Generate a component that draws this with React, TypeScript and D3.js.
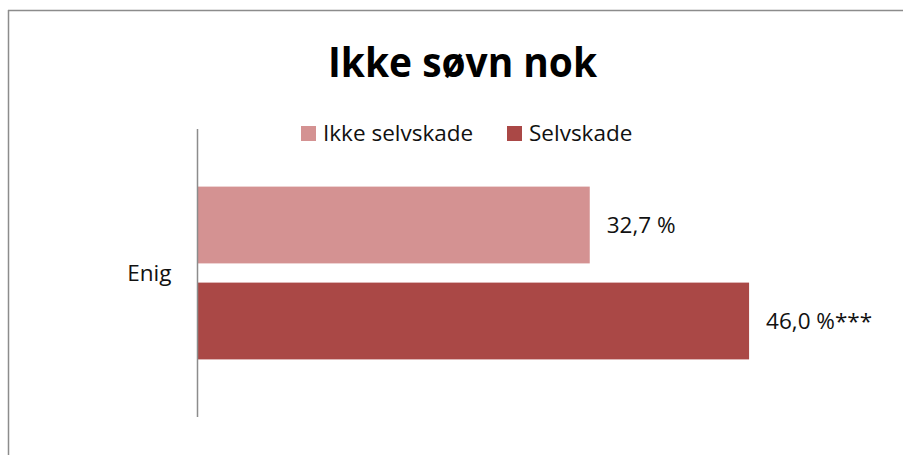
import React from "react";
import * as d3 from "d3";

const categories = ["Enig"];
const seriesNames = ["Ikke selvskade", "Selvskade"];
const seriesValues = [[32.7], [46.0]];
const valueLabels = [["32,7 %"], ["46,0 %***"]];
const colors = ["#D49292", "#AA4846"];
const title = "Ikke søvn nok";

const App = () => {
  const ref = React.useRef<SVGSVGElement>(null);

  React.useEffect(() => {
    const width = 903;
    const height = 455;
    const font = "'Open Sans', sans-serif";
    document.body.style.margin = "0";
    document.body.style.overflow = "hidden";
    const svg = d3.select(ref.current);
    svg.selectAll("*").remove();

    // chart area frame: only the left and top edges fall inside the picture
    svg.append("line")
      .attr("x1", 8.5).attr("x2", 8.5)
      .attr("y1", 10).attr("y2", height + 10)
      .attr("stroke", "#8c8c8c")
      .attr("stroke-width", 1.5);
    svg.append("line")
      .attr("x1", 8).attr("x2", width + 10)
      .attr("y1", 10.5).attr("y2", 10.5)
      .attr("stroke", "#8c8c8c")
      .attr("stroke-width", 1.5);

    const x = d3.scaleLinear().domain([0, 50]).range([198, 797]);
    const y = d3.scaleBand().domain(categories).range([129, 417]);
    const ys = d3.scaleBand()
      .domain(seriesNames)
      .range([0, y.bandwidth()])
      .paddingInner(0.2)
      .paddingOuter(0.6);

    // title
    svg.append("text")
      .attr("x", 462.5).attr("y", 77)
      .attr("text-anchor", "middle")
      .attr("font-family", font)
      .attr("font-weight", "bold")
      .attr("font-size", 42)
      .attr("textLength", 269)
      .attr("lengthAdjust", "spacingAndGlyphs")
      .text(title);

    // legend
    const legendX = [301, 507];
    const legend = svg.append("g")
      .selectAll("g")
      .data(seriesNames)
      .join("g")
      .attr("transform", (d, i) => `translate(${legendX[i]},126)`);
    legend.append("rect")
      .attr("width", 15).attr("height", 15)
      .attr("fill", (d, i) => colors[i]);
    legend.append("text")
      .attr("x", 22).attr("y", 15)
      .attr("font-family", font)
      .attr("font-size", 22.5)
      .attr("fill", "#111")
      .text(d => d);

    // bars
    const groups = svg.append("g")
      .selectAll("g")
      .data(categories)
      .join("g")
      .attr("transform", d => `translate(0,${y(d)})`);

    seriesNames.forEach((s, si) => {
      groups.append("rect")
        .attr("x", x(0))
        .attr("y", ys(s)!)
        .attr("width", (d, ci) => x(seriesValues[si][ci]) - x(0))
        .attr("height", ys.bandwidth())
        .attr("fill", colors[si]);
      groups.append("text")
        .attr("x", (d, ci) => x(seriesValues[si][ci]) + 17)
        .attr("y", ys(s)! + ys.bandwidth() / 2 + 8)
        .attr("font-family", font)
        .attr("font-size", 22.5)
        .attr("fill", "#111")
        .text((d, ci) => valueLabels[si][ci]);
    });

    // category axis
    const axis = svg.append("g")
      .attr("transform", `translate(${x(0) - 0.5},0)`)
      .call(d3.axisLeft(y).tickSize(0).tickPadding(26));
    axis.select(".domain").attr("stroke", "#8c8c8c").attr("stroke-width", 1.5)
      .attr("d", `M0,${y.range()[0]}V${y.range()[1]}`);
    axis.selectAll(".tick text")
      .attr("font-family", font)
      .attr("font-size", 22.5)
      .attr("fill", "#111")
      .attr("dy", "0.35em");
  }, []);

  return (
    <svg
      ref={ref}
      width={903}
      height={455}
      style={{ position: "absolute", left: 0, top: 0, display: "block", background: "white" }}
    />
  );
};

export default App;
